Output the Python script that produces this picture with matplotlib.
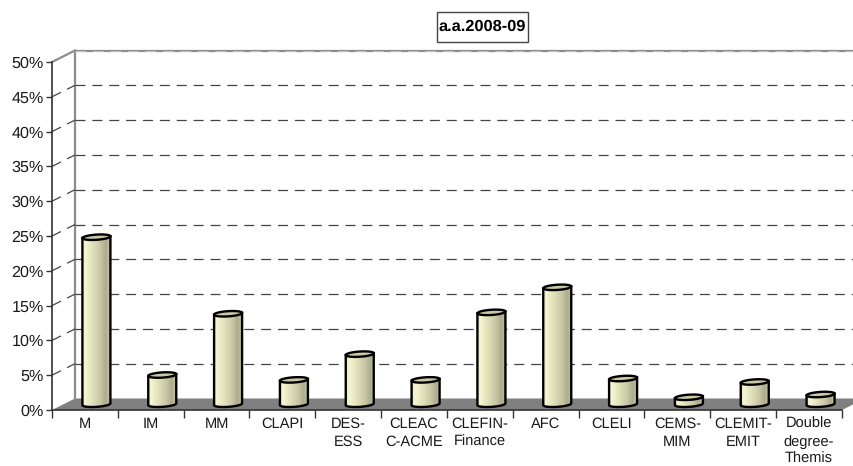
import numpy as np
import matplotlib
matplotlib.use("Agg")
import matplotlib.pyplot as plt
from matplotlib.colors import LinearSegmentedColormap
from matplotlib.patches import Polygon, Rectangle

plt.rcParams['font.family'] = ['Liberation Sans', 'DejaVu Sans']
plt.rcParams['text.hinting'] = 'none'

categories = ["M", "IM", "MM", "CLAPI", "DES-\nESS", "CLEAC\nC-ACME", "CLEFIN-\nFinance",
              "AFC", "CLELI", "CEMS-\nMIM", "CLEMIT-\nEMIT", "Double\ndegree-\nThemis"]
values = [24.0, 4.2, 13.0, 3.5, 7.2, 3.5, 13.2, 16.8, 3.7, 1.0, 3.2, 1.4]
y_ticks = [0, 5, 10, 15, 20, 25, 30, 35, 40, 45, 50]
title = "a.a.2008-09"

W, H = 854, 466
fig = plt.figure(figsize=(W / 100, H / 100), dpi=100)
L, R, B, T = 52, 842, 410, 62
ax = fig.add_axes([L / W, 1 - B / H, (R - L) / W, (B - T) / H])
n = len(categories)
ax.set_xlim(0, n)
ax.set_ylim(0, 50)
ax.patch.set_visible(False)

px = (R - L) / n          # pixels per category
py = (B - T) / 50         # pixels per percent
dx = 23 / px              # depth offset in x (categories)
dy = 11.5 / py            # depth offset in y (percent)
xmax_vis = (W - L) / px

# floor
ax.add_patch(Polygon([(0, 0), (dx, dy), (n + dx, dy), (n, 0)], closed=True,
                     fc='#808080', ec='none', clip_on=False, zorder=1))

# walls and grid
wall = '#8c8c8c'
ax.plot([dx, dx], [dy, 50 + dy], color=wall, lw=1.6, clip_on=False, zorder=2)
ax.plot([0, dx], [50, 50 + dy], color=wall, lw=1.6, clip_on=False, zorder=2)
ax.plot([dx, xmax_vis], [50 + dy, 50 + dy], color=wall, lw=1.6, clip_on=False, zorder=2)
ax.plot([dx, xmax_vis], [50 + dy, 50 + dy], color='#c4c4c4', lw=0.7, dashes=(11, 7),
        clip_on=False, zorder=2.1)
for v in y_ticks[1:-1]:
    ax.plot([dx, xmax_vis], [v + dy, v + dy], color='#444444', lw=0.9,
            dashes=(8, 5.5), clip_on=False, zorder=2.2)
    ax.plot([0, dx], [v, v + dy], color='#444444', lw=0.9,
            dashes=(8, 5.5), clip_on=False, zorder=2.2)

# cylinders
cmap = LinearSegmentedColormap.from_list('cyl', [
    (0.0, '#e8e8c4'), (0.10, '#f6f6d2'), (0.35, '#e2e2bc'),
    (0.65, '#c8c8a6'), (0.85, '#adad8e'), (1.0, '#c4c4a4')])
grad = np.linspace(0, 1, 64).reshape(1, -1)
hw = 14 / px              # half width
eh = 2.6 / py             # ellipse half-height
slant = 0.9 / py          # ellipse tilt, right end higher
t_low = np.linspace(np.pi, 2 * np.pi, 40)
t_all = np.linspace(0, 2 * np.pi, 80)
for i, v in enumerate(values):
    cx = i + 0.5 + dx / 2
    base = dy / 2
    top = v + dy / 2
    low = np.column_stack([cx + hw * np.cos(t_low),
                           base + eh * np.sin(t_low) + slant * np.cos(t_low)])
    upper = np.array([[cx + hw, top + slant], [cx - hw, top - slant]])
    body = Polygon(np.vstack([low, upper]), closed=True, fc='none', ec='none',
                   transform=ax.transData)
    im = ax.imshow(grad, cmap=cmap, extent=[cx - hw, cx + hw, base - eh - slant, top + slant],
                   aspect='auto', zorder=3, interpolation='bilinear')
    ax.add_patch(body)
    im.set_clip_path(body)
    ax.add_patch(Polygon(np.vstack([low, upper]), closed=True, fc='none', ec='black', lw=1.7,
                         zorder=3.5, clip_on=False))
    ax.add_patch(Polygon(np.column_stack([cx + hw * np.cos(t_all),
                                          top + eh * np.sin(t_all) + slant * np.cos(t_all)]),
                         closed=True, fc='#c9c9a6', ec='black', lw=1.7, zorder=4, clip_on=False))
ax.set_xlim(0, n)
ax.set_ylim(0, 50)

# axes
for s in ('top', 'right'):
    ax.spines[s].set_visible(False)
for s in ('left', 'bottom'):
    ax.spines[s].set_color('#333333')
    ax.spines[s].set_linewidth(1.2)
    ax.spines[s].set_zorder(5)
ax.set_yticks(y_ticks)
ax.set_yticklabels([f"{v}%" for v in y_ticks], fontsize=11.6, color='#1a1a1a')
ax.tick_params(axis='y', length=4.5, width=1.0, color='#333333', pad=1.5)
ax.set_xticks(np.arange(n + 1))
ax.set_xticklabels([])
ax.tick_params(axis='x', which='major', length=6, width=1.0, color='#333333')
ax.set_xticks(np.arange(n) + 0.5, minor=True)
ax.set_xticklabels(categories, minor=True, fontsize=10.5, color='#1a1a1a', linespacing=1.34)
ax.tick_params(axis='x', which='minor', length=0, pad=5)

fig.add_artist(Rectangle((437 / W, 1 - 42 / H), 91 / W, 30 / H, transform=fig.transFigure,
                         fc='white', ec='#444444', lw=1.0))
fig.text(482.5 / W, 1 - 27 / H, title, ha='center', va='center', fontsize=11.8, fontweight='bold',
         color='black')

fig.savefig('out.png', dpi=100)
